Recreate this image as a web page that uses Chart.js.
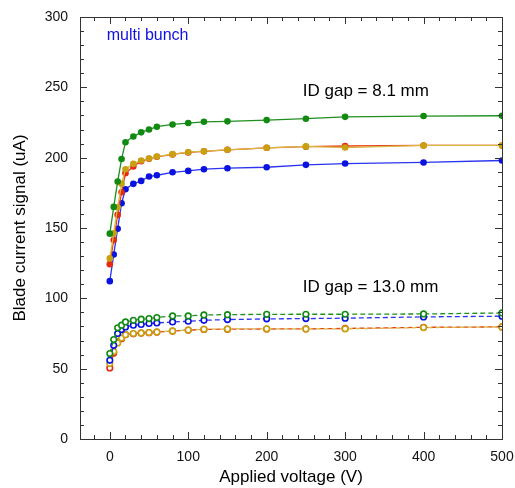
<!DOCTYPE html>
<html>
<head>
<meta charset="utf-8">
<script src="https://cdn.jsdelivr.net/npm/chart.js@4.4.1/dist/chart.umd.min.js"></script>
<style>
html,body{margin:0;padding:0;background:#fff;}
#wrap{width:515px;height:488px;position:relative;}
</style>
</head>
<body>
<div id="wrap"><canvas id="c" width="515" height="488"></canvas></div>
<script>
// Applied voltage (V)
const voltage = [0, 5, 10, 15, 20, 30, 40, 50, 60, 80, 100, 120, 150, 200, 250, 300, 400, 500];

// ID gap = 8.1 mm (filled markers)
const green81 = [146, 165, 183, 199, 211, 215, 218, 220, 222, 223.6, 224.6, 225.5, 225.8, 226.7, 227.7, 229, 229.6, 229.8];
const red81   = [124.3, 141.4, 159.3, 175.4, 189, 193.7, 197.5, 199.2, 200.6, 202.3, 203.7, 204.5, 205.6, 207, 207.8, 208.3, 208.7, 208.7];
const gold81  = [128.4, 146.2, 164.8, 181.4, 191.8, 195.6, 198, 199.4, 200.8, 202.5, 203.9, 204.6, 205.6, 207, 208, 207.2, 208.7, 208.7];
const blue81  = [112.2, 131.2, 149.5, 167.6, 177.6, 181.4, 183.5, 186.6, 187.5, 189.6, 190.6, 191.8, 192.5, 193.2, 194.9, 195.8, 196.6, 198];

// ID gap = 13.0 mm (open markers)
const green130 = [60.7, 70.7, 79, 80.9, 83.2, 84.4, 85.2, 85.6, 86.3, 87.5, 87.5, 88.2, 88.4, 88.6, 88.7, 88.7, 88.9, 89.6];
const blue130  = [55.9, 66.6, 75, 77.8, 79.7, 80.9, 81.4, 82.1, 82.5, 83.2, 83.7, 84.4, 84.9, 85.4, 85.6, 85.9, 86.8, 87.3];
const red130   = [50.5, 61.1, 69, 71.3, 74.2, 74.8, 75.3, 75.6, 76, 76.7, 77.4, 77.9, 78.1, 78.2, 78.3, 78.6, 79.4, 79.7];
const gold130  = [53.6, 62.2, 68.3, 71.8, 74.2, 75, 75.4, 75.7, 76.1, 76.8, 77.5, 78, 78.2, 78.3, 78.2, 78.3, 79.2, 79.7];

const xTicks = [0, 100, 200, 300, 400, 500];
const yTicks = [0, 50, 100, 150, 200, 250, 300];

const C = {
  green: '#128a12', greenLine: '#1f8f1f',
  gold: '#c8a010', goldLine: '#d8b840',
  red: '#e52a12', redLine: '#e8401a',
  blue: '#0a12e0', blueLine: '#2a34f0'
};

function pts(ys){ return voltage.map((v,i)=>({x:v, y:ys[i]})); }

function filled(label, ys, col, line){
  return {label, data: pts(ys), showLine:true, borderColor: line, borderWidth:1.3,
    pointBackgroundColor: col, pointBorderColor: col, pointRadius:3.3, pointBorderWidth:0, tension:0};
}
function open(label, ys, col, line){
  return {label, data: pts(ys), showLine:true, borderColor: line, borderWidth:1.3, borderDash:[5,3],
    pointBackgroundColor: '#ffffff', pointBorderColor: col, pointRadius:2.8, pointBorderWidth:1.6, tension:0};
}

const labelsPlugin = {
  id: 'extras',
  afterDatasetsDraw(chart){
    const ctx = chart.ctx, a = chart.chartArea, xs = chart.scales.x, ys = chart.scales.y;
    ctx.save();
    // frame
    ctx.strokeStyle = '#333'; ctx.lineWidth = 1;
    ctx.strokeRect(Math.round(a.left)+0.5, Math.round(a.top)+0.5, Math.round(a.right-a.left), Math.round(a.bottom-a.top));
    // inward ticks
    ctx.beginPath();
    for (let v = -20; v <= 500; v += 20){
      const px = Math.round(xs.getPixelForValue(v))+0.5;
      const len = (v % 100 === 0) ? 7 : 4;
      ctx.moveTo(px, a.bottom); ctx.lineTo(px, a.bottom-len);
      ctx.moveTo(px, a.top); ctx.lineTo(px, a.top+len);
    }
    for (let v = 0; v <= 300; v += 10){
      const py = Math.round(ys.getPixelForValue(v))+0.5;
      const len = (v % 50 === 0) ? 7 : 4;
      ctx.moveTo(a.left, py); ctx.lineTo(a.left+len, py);
      ctx.moveTo(a.right, py); ctx.lineTo(a.right-len, py);
    }
    ctx.stroke();
    // annotations
    ctx.textBaseline = 'middle'; ctx.textAlign = 'left';
    ctx.fillStyle = '#1010e0';
    ctx.font = '16px "Liberation Sans", Arial, sans-serif';
    ctx.fillText('multi bunch', xs.getPixelForValue(-4), ys.getPixelForValue(287));
    ctx.fillStyle = '#000';
    ctx.font = '17px "Liberation Sans", Arial, sans-serif';
    ctx.fillText('ID gap = 8.1 mm', xs.getPixelForValue(246), ys.getPixelForValue(247.5));
    ctx.fillText('ID gap = 13.0 mm', xs.getPixelForValue(246), ys.getPixelForValue(108));
    ctx.restore();
  }
};

new Chart(document.getElementById('c'), {
  type: 'scatter',
  data: { datasets: [
    filled('Green 8.1 mm', green81, C.green, C.greenLine),
    filled('Gold 8.1 mm', gold81, C.gold, C.goldLine),
    filled('Red 8.1 mm', red81, C.red, C.redLine),
    filled('Blue 8.1 mm', blue81, C.blue, C.blueLine),
    open('Green 13.0 mm', green130, C.green, C.greenLine),
    open('Blue 13.0 mm', blue130, C.blue, C.blueLine),
    open('Gold 13.0 mm', gold130, C.gold, C.goldLine),
    open('Red 13.0 mm', red130, C.red, C.redLine)
  ]},
  options: {
    responsive:false, animation:false, devicePixelRatio:1,
    layout:{ padding:{ top:17, right:13, left:0, bottom:0 } },
    plugins:{ legend:{display:false}, tooltip:{enabled:false} },
    scales:{
      x:{ type:'linear', min:-38, max:500,
        afterBuildTicks(s){ s.ticks = xTicks.map(v=>({value:v})); },
        afterFit(s){ s.height = 49; s.paddingLeft = 0; s.paddingRight = 0; },
        grid:{ display:false, drawTicks:false }, border:{ display:false },
        ticks:{ color:'#111', padding:10, font:{ size:14, family:'"Liberation Sans", Arial, sans-serif' }, maxRotation:0 },
        title:{ display:true, text:'Applied voltage (V)', color:'#000', padding:{top:2,bottom:0},
          font:{ size:17, family:'"Liberation Sans", Arial, sans-serif' } }
      },
      y:{ type:'linear', min:0, max:300,
        afterBuildTicks(s){ s.ticks = yTicks.map(v=>({value:v})); },
        afterFit(s){ s.width = 80; s.paddingTop = 0; s.paddingBottom = 0; },
        grid:{ display:false, drawTicks:false }, border:{ display:false },
        ticks:{ color:'#111', padding:12, font:{ size:14, family:'"Liberation Sans", Arial, sans-serif' } },
        title:{ display:true, text:'Blade current signal (uA)', color:'#000', padding:{top:10,bottom:4},
          font:{ size:17, family:'"Liberation Sans", Arial, sans-serif' } }
      }
    }
  },
  plugins:[labelsPlugin]
});
</script>
</body>
</html>
